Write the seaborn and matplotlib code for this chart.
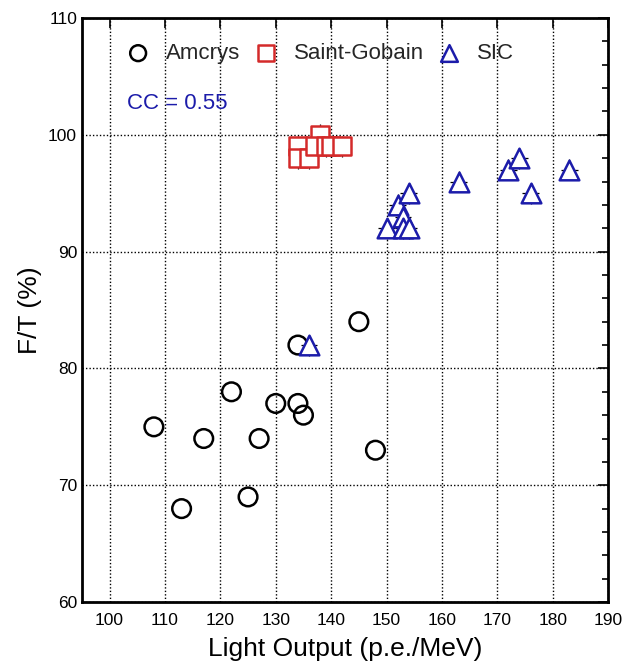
import numpy as np
import pandas as pd
import matplotlib
matplotlib.use("Agg")
import matplotlib.pyplot as plt
from matplotlib.ticker import MultipleLocator
import seaborn as sns

# ---- data ----
amcrys_x = [108, 113, 117, 122, 125, 127, 130, 134, 134, 135, 145, 148]
amcrys_y = [75, 68, 74, 78, 69, 74, 77, 82, 77, 76, 84, 73]

sg_x = [134, 134, 136, 138, 137, 139, 140, 142]
sg_y = [99, 98, 98, 100, 99, 99, 99, 99]

sic_x = [136, 150, 152, 153, 153, 154, 154, 163, 172, 174, 176, 183]
sic_y = [82, 92, 94, 93, 92, 92, 95, 96, 97, 98, 95, 97]

x_ticks = [100, 110, 120, 130, 140, 150, 160, 170, 180, 190]
y_ticks = [60, 70, 80, 90, 100, 110]

groups = ["Amcrys", "Saint-Gobain", "SIC"]
df = pd.concat([
    pd.DataFrame({"lo": amcrys_x, "ft": amcrys_y, "maker": groups[0]}),
    pd.DataFrame({"lo": sg_x, "ft": sg_y, "maker": groups[1]}),
    pd.DataFrame({"lo": sic_x, "ft": sic_y, "maker": groups[2]}),
], ignore_index=True)

sns.set_theme(style="white")
plt.rcParams["font.family"] = ["Liberation Sans", "DejaVu Sans"]

fig = plt.figure(figsize=(6.25, 6.66), dpi=100)
ax = fig.add_axes([0.131, 0.096, 0.842, 0.877])

colors = {"Amcrys": "black", "Saint-Gobain": "#d42a2a", "SIC": "#1c1caa"}
markers = {"Amcrys": "o", "Saint-Gobain": "s", "SIC": "^"}
sizes = {"Amcrys": 180, "Saint-Gobain": 165, "SIC": 200}
fills = {"Amcrys": "none", "Saint-Gobain": "white", "SIC": "white"}
errs = {"Amcrys": (0, 0), "Saint-Gobain": (0.0, 0.9), "SIC": (1.5, 0.9)}

for g in groups:
    sub = df[df["maker"] == g]
    xe, ye = errs[g]
    if xe or ye:
        ax.errorbar(sub["lo"], sub["ft"], xerr=xe if xe else None, yerr=ye if ye else None,
                    fmt="none", ecolor="black", elinewidth=0.9, zorder=2)
    sns.scatterplot(data=sub, x="lo", y="ft", ax=ax, marker=markers[g], s=sizes[g],
                    facecolors=fills[g], edgecolor=colors[g], linewidth=1.8,
                    label=g, zorder=3)

ax.set_xlim(95, 190)
ax.set_ylim(60, 110)
ax.set_xticks(x_ticks)
ax.set_yticks(y_ticks)
ax.yaxis.set_minor_locator(MultipleLocator(2))
ax.tick_params(which="both", direction="in", top=True, right=True, labelsize=12.5,
               colors="black", width=1.2)
ax.tick_params(which="major", length=7)
ax.tick_params(which="minor", length=4)
ax.tick_params(axis="x", pad=8)
for sp in ax.spines.values():
    sp.set_linewidth(2)
    sp.set_color("black")

ax.grid(True, which="major", color="black", linestyle=(0, (1, 1.5)), linewidth=1.0)
ax.set_axisbelow(True)

ax.set_xlabel("Light Output (p.e./MeV)", fontsize=19, color="black", labelpad=6)
ax.set_ylabel("F/T (%)", fontsize=19, color="black", labelpad=4)

leg = ax.legend(loc="upper left", bbox_to_anchor=(0.052, 0.98), ncol=3, frameon=False,
                fontsize=16, handlelength=1.4, handletextpad=0.55, columnspacing=0.45,
                borderaxespad=0.2, markerscale=0.85)
ax.text(0.086, 0.854, "CC = 0.55", transform=ax.transAxes, fontsize=16,
        color="#1c1caa", va="center", ha="left")

fig.savefig("out.png", dpi=100, facecolor="white")
